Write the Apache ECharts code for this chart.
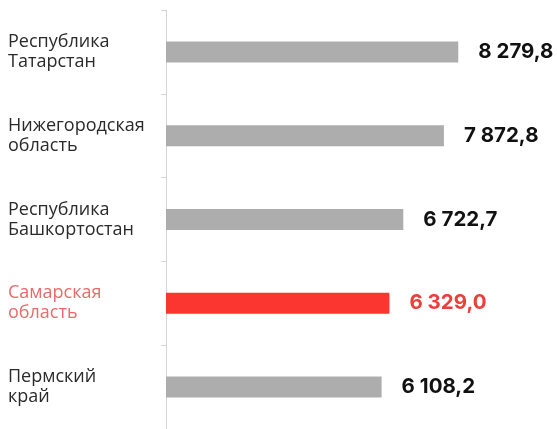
<!DOCTYPE html>
<html>
<head>
<meta charset="utf-8" />
<title>Regions</title>
<script src="https://cdn.jsdelivr.net/npm/echarts@6/dist/echarts.min.js"></script>
</head>
<body style="margin:0;background:#fff;">
<div id="echart" style="width:557px;height:429px;"></div>
<script type="text/javascript">
// данные
var regions = ['Республика\nТатарстан', 'Нижегородская\nобласть', 'Республика\nБашкортостан', 'Самарская\nобласть', 'Пермский\nкрай'];
var values = [8279.8, 7872.8, 6722.7, 6329.0, 6108.2];
var highlight = 'Самарская\nобласть';

// 8 279,8
function fmt(v) {
    var parts = v.toFixed(1).split('.');
    return parts[0].replace(/\B(?=(\d{3})+(?!\d))/g, ' ') + ',' + parts[1];
}

var myChart = echarts.init(document.getElementById('echart'));
var option = {
    backgroundColor: '#ffffff',
    animation: false,
    grid: { left: 166, top: 10, height: 420, right: 38 },
    xAxis: {
        type: 'value',
        min: 0,
        max: 10000,
        show: false
    },
    yAxis: {
        type: 'category',
        data: regions,
        inverse: true,
        axisLine: { show: true, lineStyle: { color: '#d6d6d6', width: 1 } },
        axisTick: { show: true, length: 5, lineStyle: { color: '#d6d6d6' } },
        axisLabel: {
            align: 'left',
            margin: 158,
            fontFamily: 'Open Sans',
            fontSize: 18,
            lineHeight: 20,
            color: function (v) { return v === highlight ? '#e86a6a' : '#2a2a2a'; }
        }
    },
    series: [{
        type: 'bar',
        barWidth: 21,
        data: values.map(function (v, i) {
            var hot = regions[i] === highlight;
            return {
                value: v,
                itemStyle: { color: hot ? '#fb3530' : '#adadad' },
                label: { color: hot ? '#ea3f3a' : '#111111' }
            };
        }),
        label: {
            show: true,
            position: 'right',
            distance: 20,
            fontFamily: 'Inter',
            fontWeight: 'bold',
            fontSize: 20.5,
            formatter: function (p) { return fmt(p.value); }
        }
    }]
};
option && myChart.setOption(option);
</script>
</body>
</html>
